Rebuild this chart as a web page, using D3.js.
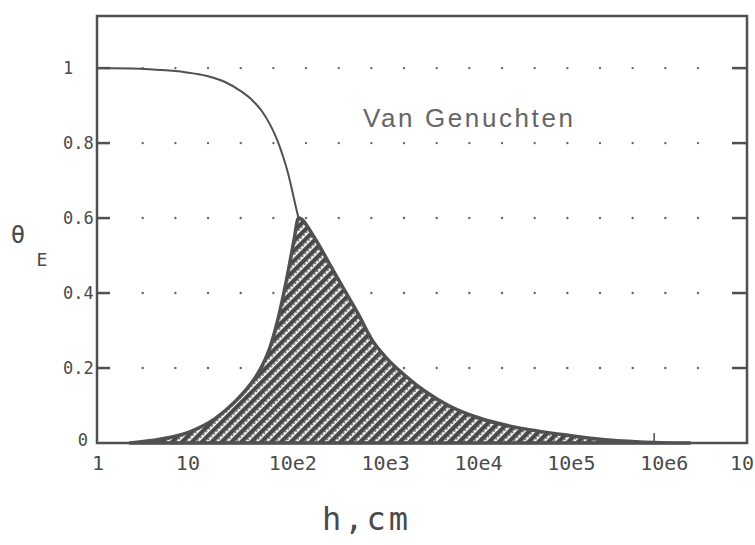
<!DOCTYPE html>
<html>
<head>
<meta charset="utf-8">
<script src="https://cdn.jsdelivr.net/npm/d3@7"></script>
<style>
  body { margin: 0; background: #fff; }
  svg { display: block; }
  .lbl { font-family: "DejaVu Sans Mono", monospace; fill: #4a4a4a; }
</style>
</head>
<body>
<script>
// effective saturation curve (Van Genuchten)
const thetaH = [1, 2.9, 4.77, 8.87, 15.3, 23.9, 34.7, 46.7, 59.8, 72.9, 86.7, 100.7, 114, 126, 137, 148];
const thetaE = [1.0, 0.998, 0.995, 0.989, 0.979, 0.963, 0.94, 0.915, 0.885, 0.85, 0.81, 0.765, 0.72, 0.675, 0.635, 0.6];

// shaded distribution (top edge)
const shadeH = [2.27, 4.77, 10, 18.7, 30.6, 44.4, 59.8, 73, 86.8, 100.7, 117, 132, 148,
  223, 323, 469, 647, 915, 1327, 2075, 3405, 6325, 13300, 28000, 58900, 124000, 260000, 703000, 2.43e6];
const shadeF = [0, 0.01, 0.03, 0.065, 0.11, 0.155, 0.205, 0.255, 0.32, 0.39, 0.47, 0.54, 0.6,
  0.545, 0.475, 0.405, 0.345, 0.275, 0.225, 0.18, 0.138, 0.098, 0.066, 0.045, 0.031, 0.02, 0.01, 0.003, 0];

const xTicks = [1, 10, 1e2, 1e3, 1e4, 1e5, 1e6, 1e7];
const xTickLabels = ["1", "10", "10e2", "10e3", "10e4", "10e5", "10e6", "10"];
const yTicks = [0, 0.2, 0.4, 0.6, 0.8, 1];
const yTickLabels = ["0", "0.2", "0.4", "0.6", "0.8", "1"];

const W = 755, H = 545;
const m = { left: 97, right: 747, top: 16, bottom: 443 };
const ink = "#505050";

const svg = d3.select("body").append("svg").attr("width", W).attr("height", H);

const x = d3.scaleLog().domain([1, 1e7]).range([m.left, m.right]);
const y = d3.scaleLinear().domain([0, 1.139]).range([m.bottom, m.top]);

// hatch pattern for the shaded area
const defs = svg.append("defs");
const pat = defs.append("pattern")
  .attr("id", "hatch")
  .attr("width", 8).attr("height", 7)
  .attr("patternUnits", "userSpaceOnUse")
  .attr("patternTransform", "rotate(-45)");
pat.append("rect").attr("width", 8).attr("height", 7).attr("fill", "#474747");
pat.append("rect").attr("y", 2.5).attr("width", 8).attr("height", 2.6).attr("fill", "#fff");
pat.selectAll(".tk").data([0, 4]).join("rect")
  .attr("x", (d) => d).attr("y", 2.5).attr("width", 1.5).attr("height", 1.4).attr("fill", "#474747");

// dotted grid
const dotStep = (m.right - m.left) / 19.9;
const dotsX = d3.range(18).map((i) => m.left + 1.4 * dotStep + i * dotStep);
const rows = yTicks.filter((d) => d > 0);
const dots = [];
rows.forEach((r) => dotsX.forEach((dx) => dots.push([dx, y(r)])));
svg.append("g").selectAll("circle").data(dots).join("circle")
  .attr("cx", (d) => d[0]).attr("cy", (d) => d[1]).attr("r", 1.2).attr("fill", "#666");

// bottom inner ticks
svg.append("g").selectAll("line").data(xTicks.slice(1, -1)).join("line")
  .attr("x1", (d) => x(d)).attr("x2", (d) => x(d))
  .attr("y1", m.bottom).attr("y2", m.bottom - 10)
  .attr("stroke", ink).attr("stroke-width", 1.5);

// shaded area
const shade = shadeH.map((h, i) => ({ h, f: shadeF[i] }));
const area = d3.area()
  .x((d) => x(d.h)).y0(y(0)).y1((d) => y(d.f))
  .curve(d3.curveMonotoneX);
svg.append("path").datum(shade)
  .attr("d", area)
  .attr("fill", "url(#hatch)")
  .attr("stroke", ink).attr("stroke-width", 3.5).attr("stroke-linejoin", "round");

// theta curve
const theta = thetaH.map((h, i) => ({ h, t: thetaE[i] }));
svg.append("path").datum(theta)
  .attr("d", d3.line().x((d) => x(d.h)).y((d) => y(d.t)).curve(d3.curveMonotoneX))
  .attr("fill", "none").attr("stroke", ink).attr("stroke-width", 2);

// frame
svg.append("rect")
  .attr("x", m.left).attr("y", m.top)
  .attr("width", m.right - m.left).attr("height", m.bottom - m.top)
  .attr("fill", "none").attr("stroke", ink).attr("stroke-width", 2.5);

// left and right inner ticks
svg.append("g").selectAll("line").data(rows).join("line")
  .attr("x1", m.left).attr("x2", m.left + 13)
  .attr("y1", (d) => y(d)).attr("y2", (d) => y(d))
  .attr("stroke", ink).attr("stroke-width", 2.5);
svg.append("g").selectAll("line").data(rows).join("line")
  .attr("x1", m.right - 15).attr("x2", m.right)
  .attr("y1", (d) => y(d)).attr("y2", (d) => y(d))
  .attr("stroke", ink).attr("stroke-width", 2.5);

// y tick labels
svg.append("g").selectAll("text").data(yTicks).join("text")
  .attr("class", "lbl")
  .attr("x", (d) => (d === 0 ? 88 : 63))
  .attr("y", (d) => y(d) + (d === 0 ? 3 : 6))
  .attr("text-anchor", (d) => (d === 0 ? "end" : "start"))
  .attr("font-size", 17)
  .text((d, i) => yTickLabels[i]);

// x tick labels
const last = xTicks.length - 1;
svg.append("g").selectAll("text").data(xTicks).join("text")
  .attr("class", "lbl")
  .attr("x", (d, i) => (i === 0 ? x(d) + 1 : i === last ? W - 1 : x(d) - 14))
  .attr("y", 470)
  .attr("text-anchor", (d, i) => (i === 0 ? "middle" : i === last ? "end" : "start"))
  .attr("font-size", 20)
  .text((d, i) => xTickLabels[i]);

// annotation
svg.append("text")
  .attr("x", 363).attr("y", 127)
  .attr("font-family", "Liberation Sans, Arial, sans-serif")
  .attr("font-size", 26).attr("letter-spacing", 2.6)
  .attr("fill", "#666")
  .text("Van Genuchten");

// axis titles
svg.append("text").attr("class", "lbl")
  .attr("x", 18).attr("y", 243).attr("text-anchor", "middle")
  .attr("font-size", 24).attr("font-family", "DejaVu Sans")
  .text("θ");
svg.append("text").attr("class", "lbl")
  .attr("x", 42).attr("y", 266).attr("text-anchor", "middle")
  .attr("font-size", 18).attr("font-family", "DejaVu Sans")
  .text("E");

svg.append("text").attr("class", "lbl")
  .attr("x", 322).attr("y", 530)
  .attr("font-size", 32).attr("letter-spacing", 3)
  .attr("fill", "#666")
  .text("h,cm");
</script>
</body>
</html>
